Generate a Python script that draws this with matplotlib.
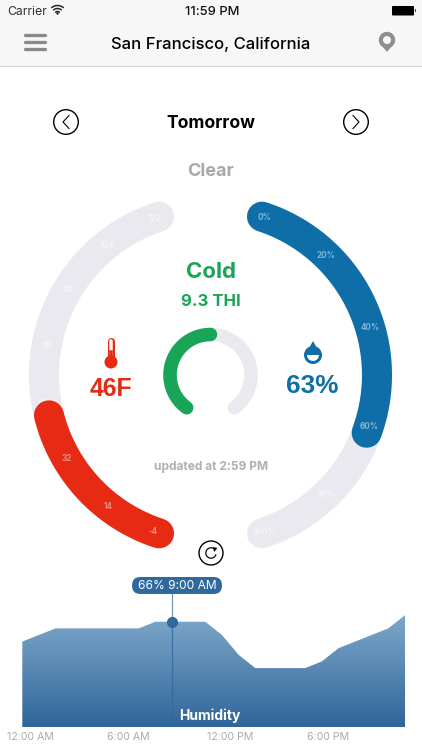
import numpy as np
import matplotlib
matplotlib.use('Agg')
import matplotlib.pyplot as plt
from matplotlib.patches import Circle, FancyBboxPatch, Polygon, Rectangle, Wedge
from matplotlib.transforms import ScaledTranslation
from matplotlib.colors import LinearSegmentedColormap

plt.rcParams['font.family'] = ['Inter', 'Liberation Sans', 'DejaVu Sans']

# humidity per hour
hours = list(range(24))
humidity = [60, 62, 64, 64, 64, 64, 64, 64, 66, 66, 66, 66, 62, 56, 52, 52, 52, 52, 54, 58, 60, 62, 64, 68]
tick_hours = [0, 6, 12, 18]
tick_labels = ['12:00 AM', '6:00 AM', '12:00 PM', '6:00 PM']
selected_hour = 9
selected_text = '66% 9:00 AM'

# gauge values and labels
temp_now = 46
temp_scale = [-4, 14, 32, 50, 68, 86, 104, 122]
hum_now = 63
hum_scale = ['0%', '20%', '40%', '60%', '80%', '100%']
thi_now = 9.3
thi_max = 18.6

W, H = 422, 750
BLUE = '#0f6ea8'
RED = '#e62a14'
GREEN = '#18a558'
TRACK = '#e9e9ef'

fig = plt.figure(figsize=(W / 100, H / 100), dpi=100, facecolor='white')
ax = fig.add_axes([0, 0, 1, 1], zorder=1)
ax.set_xlim(0, W)
ax.set_ylim(H, 0)
ax.axis('off')
ax.patch.set_alpha(0)


def px(w):
    return w * 72 / 100


def arc(cx, cy, r, a0, a1, color, width, z=2):
    t = np.radians(np.linspace(a0, a1, 200))
    ax.plot(cx + r * np.cos(t), cy - r * np.sin(t), color=color, lw=px(width),
            solid_capstyle='round', zorder=z)


# top bars
ax.add_patch(Rectangle((0, 0), W, 65.5, fc='#f7f7f7', ec='none', zorder=0))
ax.plot([0, W], [65.5, 65.5], color='#d4d4d4', lw=0.8, zorder=1)
ax.text(7, 12, 'Carrier', fontsize=8.8, color='#333333', va='center', ha='left')
ax.text(212, 12, '11:59 PM', fontsize=9.3, color='#111111', va='center', ha='center', weight='medium')
ax.text(211, 44, 'San Francisco, California', fontsize=12, color='black', va='center', ha='center', weight='medium')

# wifi
for r in [9, 6, 3]:
    arc(57.5, 14.5, r, 50, 130, '#222222', 1.5)
ax.add_patch(Circle((57.5, 13.5), 1.2, fc='#222222', ec='none', zorder=3))

# battery
ax.add_patch(FancyBboxPatch((392, 6), 22, 9.5, boxstyle='round,pad=0,rounding_size=1', fc='black', ec='none', zorder=3))
ax.add_patch(Rectangle((414.5, 9), 1.5, 3, fc='#444444', ec='none', zorder=3))

# hamburger
for y in [35, 42, 49]:
    ax.plot([25, 45], [y, y], color='#8a8a8a', lw=px(3.3), solid_capstyle='round', zorder=3)

# pin
ax.add_patch(Polygon([[379.5, 43], [387, 52], [394.5, 43]], fc='#8f8f8f', ec='none', zorder=3))
ax.add_patch(Circle((387, 40), 8.2, fc='#8f8f8f', ec='none', zorder=3))
ax.add_patch(Circle((387, 40), 4, fc='#f7f7f7', ec='none', zorder=4))

# day nav
ax.text(210.5, 123.5, 'Tomorrow', fontsize=12.6, color='black', va='center', ha='center', weight='bold')
ax.text(210.5, 171.5, 'Clear', fontsize=13, color='#a9a9a9', va='center', ha='center', weight='bold')
for cx, d in [(66, 1), (356, -1)]:
    ax.add_patch(Circle((cx, 122), 12.3, fc='white', ec='black', lw=1.0, zorder=3))
    ax.plot([cx + 3 * d, cx - 3 * d, cx + 3 * d], [115.5, 122, 128.5], color='black', lw=0.8, zorder=4)

# outer gauges
CX, CY, R, BAND = 210.5, 375, 166.5, 30
arc(CX, CY, R, 108, 252, TRACK, BAND)
arc(CX, CY, R, 72, -72, TRACK, BAND)

temp_angles = [249.7, 232.2, 210.2, 189.4, 169.7, 149, 128.7, 109.8]
hum_angles = [71, 46, 16.5, -18, -46, -71]

temp_a = np.interp(temp_now, temp_scale, temp_angles)
arc(CX, CY, R, 252, temp_a, RED, BAND, z=3)
arc(CX, CY, R, 72, 72 - hum_now * 1.465, BLUE, BAND, z=3)

for v, a in zip(temp_scale, temp_angles):
    t = np.radians(a)
    c = '#f4f4f8' if v > temp_now + 3 else '#f28a7c'
    ax.text(CX + R * np.cos(t), CY - R * np.sin(t), str(v), fontsize=5.8, color=c, ha='center', va='center',
            weight='bold', zorder=2 if v == 50 else 4)
for i, (lab, a) in enumerate(zip(hum_scale, hum_angles)):
    t = np.radians(a)
    c = '#7fb6d8' if i < 4 else '#f4f4f8'
    ax.text(CX + R * np.cos(t), CY - R * np.sin(t), lab, fontsize=5.8, color=c, ha='center', va='center',
            weight='bold', zorder=4)

# inner THI gauge
arc(CX, CY, 40.5, 234, -54, TRACK, 13.5)
arc(CX, CY, 40.5, 234, 234 - 288 * thi_now / thi_max, GREEN, 13.5, z=3)

ax.text(211, 272.5, 'Cold', fontsize=16, color=GREEN, va='center', ha='center', weight='bold')
ax.text(210.5, 301, '%.1f THI' % thi_now, fontsize=12, color=GREEN, va='center', ha='center', weight='bold')
ax.text(111, 389, '%dF' % temp_now, fontsize=17.8, color=RED, va='center', ha='center', weight='bold',
        family='Liberation Sans')
ax.text(312, 386, '%d%%' % hum_now, fontsize=18.8, color=BLUE, va='center', ha='center', weight='bold',
        family='Liberation Sans')
ax.text(211, 467, 'updated at 2:59 PM', fontsize=8.6, color='#b0b0b0', va='center', ha='center', weight='bold')

# thermometer
ax.plot([111, 111], [341, 362], color=RED, lw=px(7), solid_capstyle='round', zorder=3)
ax.plot([111, 111], [341, 360], color='white', lw=px(3.5), solid_capstyle='round', zorder=4)
ax.add_patch(Circle((111, 362), 6.5, fc=RED, ec='none', zorder=5))
ax.plot([111, 111], [352, 360], color=RED, lw=px(3.5), zorder=5)

# drop
ax.add_patch(Polygon([[313, 341], [304.5, 356], [321.5, 356]], fc=BLUE, ec='none', zorder=3))
ax.add_patch(Circle((313, 355), 9, fc=BLUE, ec='none', zorder=3))
ax.add_patch(Wedge((313, 355), 6, 0, 180, fc='white', ec='none', zorder=4))

# refresh
ax.add_patch(Circle((211, 553), 12, fc='white', ec='black', lw=1.0, zorder=3))
arc(211, 553, 5.2, 60, 340, 'black', 1.2, z=4)
ax.add_patch(Polygon([[213, 547], [217.5, 548], [214, 552]], fc='black', ec='none', zorder=4))

# humidity chart
x0, x1, y_base = 22.3, 405, 727
y_low, per_pct = 34.2, 3.31
top = y_base - 36 * per_pct
cax = fig.add_axes([x0 / W, 1 - y_base / H, (x1 - x0) / W, 36 * per_pct / H], zorder=0)
cax.set_xlim(hours[0], hours[-1])
cax.set_ylim(y_low, y_low + 36)
poly = cax.fill_between(hours, humidity, y_low, color='none', lw=0)
cmap = LinearSegmentedColormap.from_list('hum', ['#2f6699', '#7fa8ca'])
img = cax.imshow(np.linspace(1.06, 0, 256).reshape(-1, 1), cmap=cmap, vmin=0, vmax=1, aspect='auto',
                 extent=[hours[0], hours[-1], y_low, y_low + 36], origin='upper')
img.set_clip_path(poly.get_paths()[0], transform=cax.transData)
for s in cax.spines.values():
    s.set_visible(False)
cax.patch.set_alpha(0)
cax.set_yticks([])
cax.set_xticks(tick_hours)
cax.set_xticklabels(tick_labels, fontsize=7.6, color='#ababab')
cax.tick_params(axis='x', length=0, pad=3.8)
off = ScaledTranslation(-15 / 100, 0, fig.dpi_scale_trans)
for lab in cax.get_xticklabels():
    lab.set_ha('left')
    lab.set_transform(lab.get_transform() + off)
sel = humidity[hours.index(selected_hour)]
cax.plot([selected_hour, selected_hour], [y_low, sel], color='#2e6a9e', lw=0.9, alpha=0.8, zorder=3)
cax.plot([selected_hour, selected_hour], [sel, y_low + 40.2], color='#6f97ba', lw=0.9, zorder=3, clip_on=False)
cax.plot([selected_hour], [sel], 'o', color='#2e6a9e', ms=7, zorder=4)

ax.add_patch(FancyBboxPatch((132, 577), 90, 17, boxstyle='round,pad=0,rounding_size=8.4',
                            fc='#2e6a9e', ec='none', zorder=5))
ax.text(177, 585.8, selected_text, fontsize=8.6, color='white', va='center', ha='center', zorder=6)
ax.text(210, 715.5, 'Humidity', fontsize=10, color='white', va='center', ha='center', weight='bold', zorder=6)

fig.savefig('out.png', dpi=100)
